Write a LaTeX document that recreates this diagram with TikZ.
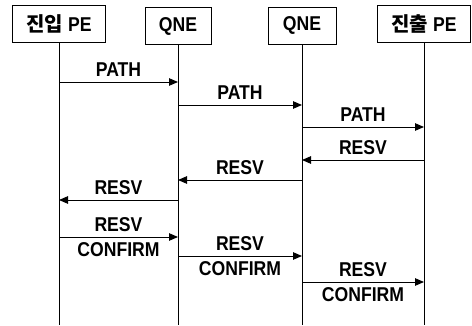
\documentclass[tikz,border=0pt]{standalone}
\usepackage{fontspec}
\setmainfont{Liberation Sans}[FakeStretch=0.88]
\newfontfamily\kr{Noto Sans CJK KR}
\usetikzlibrary{arrows.meta,positioning}

\tikzset{
  entity/.style={draw,line width=0.9pt,minimum height=37pt,inner sep=0pt},
  life/.style={line width=0.9pt},
  msg/.style={line width=0.9pt,-{Triangle[length=9pt,width=7.5pt]}},
  lbl/.style={inner sep=0pt}
}

\begin{document}
\begin{tikzpicture}[x=1pt,y=-1pt,font=\fontsize{20}{22}\selectfont\bfseries]
\useasboundingbox (0,0) rectangle (472,326);
% entities
\node[entity,minimum width=93pt] (ingress) at (59,24) {{\kr 진입} PE};
\node[entity,minimum width=66pt] (qneA) at (178,26) {QNE};
\node[entity,minimum width=68pt] (qneB) at (302,25.5) {QNE};
\node[entity,minimum width=93pt] (egress) at (424,24) {{\kr 진출} PE};
% lifelines
\coordinate (bottom) at (0,325);
\draw[life] (ingress) -- (ingress |- bottom);
\draw[life] (qneA) -- (qneA |- bottom);
\draw[life] (qneB) -- (qneB |- bottom);
\draw[life] (egress) -- (egress |- bottom);
% message rows
\coordinate (m1) at (0,82);
\coordinate (m2) at (0,105);
\coordinate (m3) at (0,127);
\coordinate (m4) at (0,160);
\coordinate (m5) at (0,180);
\coordinate (m6) at (0,200);
\coordinate (m7) at (0,237);
\coordinate (m8) at (0,256);
\coordinate (m9) at (0,282);
% PATH
\draw[msg] (ingress |- m1) -- (qneA |- m1) node[lbl,midway,above=5pt] {PATH};
\draw[msg] (qneA |- m2) -- (qneB |- m2) node[lbl,midway,above=5pt] {PATH};
\draw[msg] (qneB |- m3) -- (egress |- m3) node[lbl,midway,above=5pt] {PATH};
% RESV
\draw[msg] (egress |- m4) -- (qneB |- m4) node[lbl,midway,above=5pt] {RESV};
\draw[msg] (qneB |- m5) -- (qneA |- m5) node[lbl,midway,above=5pt] {RESV};
\draw[msg] (qneA |- m6) -- (ingress |- m6) node[lbl,midway,above=5pt] {RESV};
% RESV CONFIRM
\draw[msg] (ingress |- m7) -- (qneA |- m7)
  node[lbl,midway,above=5pt] {RESV} node[lbl,midway,below=5pt] {CONFIRM};
\draw[msg] (qneA |- m8) -- (qneB |- m8)
  node[lbl,midway,above=5pt] {RESV} node[lbl,midway,below=5pt] {CONFIRM};
\draw[msg] (qneB |- m9) -- (egress |- m9)
  node[lbl,midway,above=5pt] {RESV} node[lbl,midway,below=5pt] {CONFIRM};
\end{tikzpicture}
\end{document}
